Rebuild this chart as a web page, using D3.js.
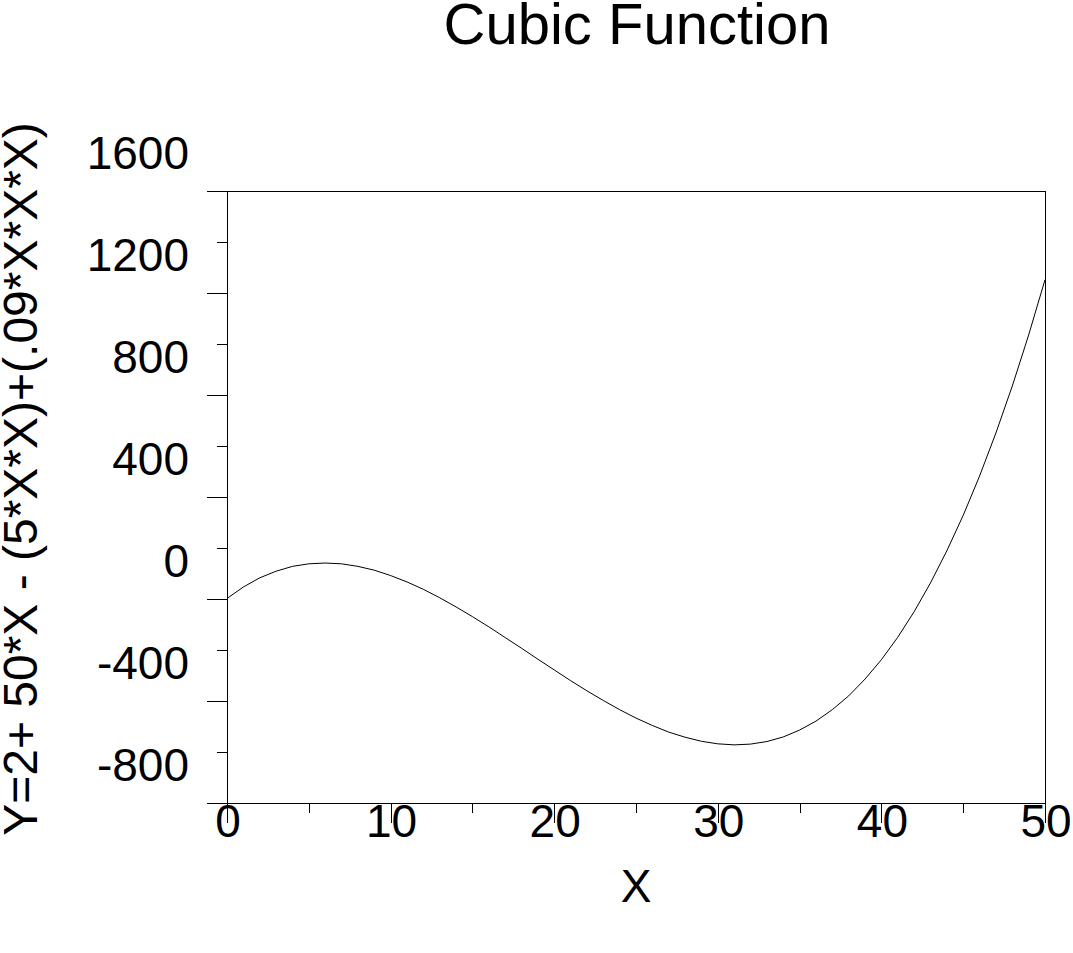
<!DOCTYPE html>
<html>
<head>
<meta charset="utf-8">
<script src="https://cdn.jsdelivr.net/npm/d3@7"></script>
<style>
  html, body { margin: 0; padding: 0; background: #fff; }
  svg { display: block; }
  text { font-family: "Liberation Sans", Arial, sans-serif; fill: #000; }
</style>
</head>
<body>
<svg id="chart" width="1073" height="953"></svg>
<script>
// ---- data ----
const titleText = "Cubic Function";
const xLabelText = "X";
const yLabelText = "Y=2+ 50*X - (5*X*X)+(.09*X*X*X)";
const xValues = [0,1,2,3,4,5,6,7,8,9,10,11,12,13,14,15,16,17,18,19,20,21,22,23,24,25,
  26,27,28,29,30,31,32,33,34,35,36,37,38,39,40,41,42,43,44,45,46,47,48,49,50];
const yValues = [2,47,83,109,128,138,141,138,128,113,92,67,38,5,-31,-69,-109,-151,-193,-236,-278,
  -320,-360,-398,-434,-467,-496,-522,-542,-558,-568,-572,-569,-559,-541,-514,-479,-434,-380,-314,-238,
  -150,-50,63,189,328,482,651,835,1035,1252];
const xTickValues = [0,5,10,15,20,25,30,35,40,45,50];
const xTickLabels = ["0","10","20","30","40","50"];
const yMajorTicks = [-800,-400,0,400,800,1200,1600];
const yMinorTicks = [-600,-200,200,600,1000,1400];
const yTickLabels = ["-800","-400","0","400","800","1200","1600"];

// ---- layout ----
(function () {
const svg = d3.select("#chart");
const pL = 227, pR = 1045, pT = 191, pB = 803;
const x = d3.scaleLinear().domain([0, 50]).range([pL, pR]);
const y = d3.scaleLinear().domain([-800, 1600]).range([pB, pT]);

const g = svg.append("g").attr("shape-rendering", "crispEdges");

// frame
g.append("line").attr("x1", pL + 0.5).attr("x2", pL + 0.5).attr("y1", pT).attr("y2", pB).attr("stroke", "#000");
g.append("line").attr("x1", pR + 0.5).attr("x2", pR + 0.5).attr("y1", pT).attr("y2", pB).attr("stroke", "#000");
g.append("line").attr("x1", pL - 20).attr("x2", pR + 1).attr("y1", pT + 0.5).attr("y2", pT + 0.5).attr("stroke", "#000");
g.append("line").attr("x1", pL - 20).attr("x2", pR + 1).attr("y1", pB + 0.5).attr("y2", pB + 0.5).attr("stroke", "#000");

// y ticks
g.selectAll(".ymaj").data(yMajorTicks).enter().append("line")
  .attr("x1", pL - 20).attr("x2", pL)
  .attr("y1", d => Math.round(y(d)) + 0.5).attr("y2", d => Math.round(y(d)) + 0.5)
  .attr("stroke", "#000");
g.selectAll(".ymin").data(yMinorTicks).enter().append("line")
  .attr("x1", pL - 10).attr("x2", pL)
  .attr("y1", d => Math.round(y(d)) + 0.5).attr("y2", d => Math.round(y(d)) + 0.5)
  .attr("stroke", "#000");

// x ticks
g.selectAll(".xt").data(xTickValues).enter().append("line")
  .attr("x1", d => Math.round(x(d)) + 0.5).attr("x2", d => Math.round(x(d)) + 0.5)
  .attr("y1", pB).attr("y2", (d, i) => pB + (i % 2 === 0 ? 20 : 10))
  .attr("stroke", "#000");

// y tick labels (drawn above their ticks as in the source)
svg.selectAll(".ylab").data(yMajorTicks).enter().append("text")
  .attr("x", 189).attr("y", d => y(d) - 22)
  .attr("text-anchor", "end").attr("font-size", 46)
  .text((d, i) => yTickLabels[i]);

// x tick labels
const xMajor = xTickValues.filter((d, i) => i % 2 === 0);
svg.selectAll(".xlab").data(xMajor).enter().append("text")
  .attr("x", d => x(d) + 1).attr("y", 837)
  .attr("text-anchor", "middle").attr("font-size", 46)
  .text((d, i) => xTickLabels[i]);

// curve
const line = d3.line().x((d, i) => x(xValues[i])).y(d => y(d));
svg.append("path").datum(yValues).attr("d", line)
  .attr("fill", "none").attr("stroke", "#000").attr("stroke-width", 1);

// title
svg.append("text").attr("x", 637).attr("y", 44)
  .attr("text-anchor", "middle").attr("font-size", 58).text(titleText);

// x label
svg.append("text").attr("x", 636).attr("y", 902)
  .attr("text-anchor", "middle").attr("font-size", 46).text(xLabelText);

// y label
svg.append("text").attr("transform", "translate(37,479) rotate(-90)")
  .attr("text-anchor", "middle").attr("font-size", 48).text(yLabelText);
})();
</script>
</body>
</html>
